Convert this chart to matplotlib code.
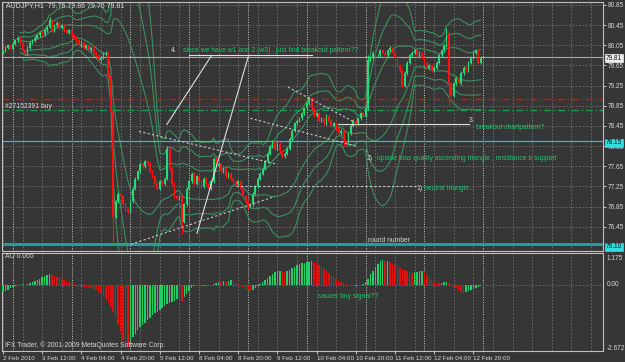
import numpy as np
import pandas as pd
import matplotlib
matplotlib.use("Agg")
import matplotlib.pyplot as plt

plt.rcParams['font.family'] = ['Liberation Sans', 'DejaVu Sans']

# AUDJPY H1 closes, bar 0 = 2 Feb 2010 20:00 ... bar 195 = 12 Feb 23:00
closes = [
    79.95, 80.00, 80.05, 79.98, 80.08, 80.15, 80.20, 80.10, 79.95, 79.88,
    80.00, 80.10, 80.15, 80.20, 80.25, 80.30, 80.27, 80.35, 80.42, 80.55,
    80.35, 80.45, 80.50, 80.40, 80.45, 80.35, 80.30, 80.35, 80.25, 80.20,
    80.15, 80.05, 80.10, 80.00, 80.05, 79.95, 80.00, 79.90, 79.85, 79.75,
    79.80, 79.88, 79.90, 79.45, 78.75, 76.65, 76.95, 77.10, 77.05, 76.90,
    76.80, 76.75, 76.95, 77.20, 77.40, 77.55, 77.70, 77.65, 77.75, 77.70,
    77.55, 77.45, 77.30, 77.20, 77.35, 77.30, 77.40, 78.00, 77.60, 77.30,
    77.05, 77.00, 77.05, 76.55, 76.90, 77.20, 77.35, 77.50, 77.30, 77.45,
    77.35, 77.25, 77.40, 77.30, 77.20, 77.35, 77.80, 77.65, 77.70, 77.55,
    77.60, 77.45, 77.50, 77.40, 77.35, 77.30, 77.35, 77.20, 77.05, 76.95,
    76.85, 76.90, 77.10, 77.25, 77.40, 77.50, 77.60, 77.75, 77.90, 78.05,
    78.15, 78.00, 78.10, 77.95, 77.85, 77.90, 78.00, 78.20, 78.35, 78.50,
    78.55, 78.60, 78.70, 78.80, 78.90, 79.00, 78.80, 78.65, 78.70, 78.55,
    78.60, 78.50, 78.65, 78.55, 78.45, 78.50, 78.40, 78.30, 78.35, 78.15,
    78.10, 78.30, 78.45, 78.55, 78.50, 78.60, 78.70, 78.65, 78.80, 79.75,
    79.80, 79.90, 79.85, 79.85, 79.95, 79.90, 79.85, 79.95, 80.00, 79.90,
    79.80, 79.65, 79.55, 79.25, 79.50, 79.70, 79.85, 79.90, 79.95, 79.85,
    79.90, 79.80, 79.70, 79.60, 79.65, 79.55, 79.60, 79.70, 79.85, 79.95,
    80.05, 80.30, 79.30, 79.05, 79.30, 79.40, 79.30, 79.50, 79.60, 79.55,
    79.70, 79.80, 79.90, 79.95, 79.70, 79.81,
]
first_open = 79.90

# bars whose wick sticks out well past the body
high_bars = [19, 67, 149, 181]
high_vals = [80.62, 78.05, 79.85, 80.40]
low_bars = [45, 73, 100, 139, 182]
low_vals = [76.15, 76.30, 76.80, 78.05, 78.85]

# Awesome Oscillator, one value per bar
ao = [
    -0.30, -0.27, -0.22, -0.15, -0.10, -0.05, -0.08, -0.03, 0.02, -0.02,
    0.03, 0.06, 0.10, 0.15, 0.20, 0.25, 0.30, 0.35, 0.40, 0.42,
    0.40, 0.36, 0.32, 0.28, 0.22, 0.18, 0.14, 0.10, 0.06, 0.03,
    -0.02, -0.05, -0.04, -0.08, -0.10, -0.12, -0.15, -0.18, -0.22, -0.30,
    -0.40, -0.50, -0.60, -0.75, -0.90, -1.10, -1.35, -1.65, -1.95, -2.25,
    -2.45, -2.55, -2.30, -2.15, -2.00, -1.85, -1.75, -1.65, -1.55, -1.45,
    -1.35, -1.25, -1.15, -1.10, -1.02, -0.95, -0.88, -0.80, -0.75, -0.70,
    -0.65, -0.60, -0.62, -0.66, -0.50, -0.38, -0.25, -0.12, -0.05, -0.03,
    -0.06, -0.08, -0.05, -0.04, -0.06, -0.02, 0.03, 0.08, 0.12, 0.10,
    0.14, 0.12, 0.16, 0.18, 0.14, 0.08, 0.02, -0.04, -0.10, -0.16,
    -0.22, -0.24, -0.20, -0.12, -0.05, 0.03, 0.10, 0.18, 0.26, 0.35,
    0.45, 0.52, 0.55, 0.58, 0.54, 0.52, 0.56, 0.62, 0.68, 0.74,
    0.80, 0.84, 0.87, 0.89, 0.92, 0.94, 0.96, 0.93, 0.88, 0.80,
    0.72, 0.64, 0.55, 0.47, 0.39, 0.31, 0.24, 0.17, 0.11, 0.06,
    0.02, -0.02, -0.05, -0.06, -0.04, -0.05, -0.02, 0.02, 0.10, 0.25,
    0.42, 0.58, 0.72, 0.85, 0.95, 1.02, 0.98, 0.99, 0.94, 0.88,
    0.82, 0.76, 0.70, 0.65, 0.60, 0.55, 0.50, 0.47, 0.50, 0.53,
    0.56, 0.58, 0.50, 0.40, 0.30, 0.20, 0.12, 0.08, 0.05, 0.07,
    0.10, 0.12, 0.06, -0.02, -0.08, -0.15, -0.22, -0.30, -0.35, -0.30,
    -0.25, -0.22, -0.18, -0.12, -0.08, -0.05,
]

price_ticks = [76.45, 76.85, 77.25, 77.65, 78.05, 78.45, 78.85, 79.25, 79.65, 80.05, 80.45, 80.85]
xtick_bars = [0, 16, 32, 48, 64, 80, 96, 112, 128, 144, 160, 176, 192]
xtick_labels = ["2 Feb 2010", "3 Feb 12:00", "4 Feb 04:00", "4 Feb 20:00", "5 Feb 12:00",
                "8 Feb 04:00", "8 Feb 20:00", "9 Feb 12:00", "10 Feb 04:00", "10 Feb 20:00",
                "11 Feb 12:00", "12 Feb 04:00", "12 Feb 20:00"]
day_starts = [4, 28, 52, 76, 100, 124, 148, 172, 196]

bid = 79.81
sell_level = 78.99
buy_level = 78.76
cyan_level = 78.15
round_level = 76.10

# hand drawn trend lines (bar, price) -> (bar, price)
solid_lines = [((66.9, 78.48), (84.9, 79.83)),
               ((79.2, 76.32), (100.0, 79.81)),
               ((76.0, 79.86), (126.0, 79.86)),
               ((136.7, 78.49), (190.2, 78.49))]
dashed_lines = [((55.5, 78.34), (111.0, 77.70)),
                ((52.2, 76.10), (111.0, 77.05)),
                ((95.0, 77.26), (168.6, 77.26)),
                ((116.3, 79.22), (142.9, 78.54)),
                ((101.0, 78.60), (144.0, 78.05))]

BG = '#363636'
GRID = '#707070'
TXT = '#d8d8d8'
GREEN = '#22dd77'
RED = '#ff1010'
NOTE = '#21c46a'
BAND = '#3b8f5f'

W, H = 625, 362
fig = plt.figure(figsize=(W / 100, H / 100), dpi=100, facecolor=BG)

def fpos(x, y):
    return x / W, 1 - y / H

ax = fig.add_axes([2 / W, 1 - 251 / H, 601 / W, 249 / H], facecolor=BG)
ax2 = fig.add_axes([2 / W, 1 - 351 / H, 601 / W, 98 / H], facecolor=BG, sharex=ax)

n = len(closes)
idx = np.arange(n)
c = np.array(closes)
o = np.array([first_open] + closes[:-1])
hi = np.maximum(o, c) + 0.03
lo = np.minimum(o, c) - 0.03
for b, v in zip(high_bars, high_vals):
    hi[b] = v
for b, v in zip(low_bars, low_vals):
    lo[b] = v
up = c >= o
cols = np.where(up, GREEN, RED)

# grid
for a in (ax, ax2):
    for g in range(0, 245, 8):
        a.axvline(g, color=GRID, lw=0.6, ls=(0, (2, 2)), zorder=0)
    for d in day_starts:
        a.axvline(d, color='#c8c8c8', lw=0.7, ls=(0, (1, 1.5)), zorder=0)
for p in price_ticks:
    ax.axhline(p, color=GRID, lw=0.6, ls=(0, (2, 2)), zorder=0)

# bollinger bands 20 period, 1/2/3 deviations
s = pd.Series(closes)
mid = s.rolling(20, min_periods=8).mean()
sd = s.rolling(20, min_periods=8).std(ddof=0)
for k in (1, 2, 3):
    ax.plot(idx, mid + k * sd, color=BAND, lw=0.8, zorder=1)
    ax.plot(idx, mid - k * sd, color=BAND, lw=0.8, zorder=1)

# candles
ax.vlines(idx, lo, hi, colors=cols, lw=0.8, zorder=3)
ax.bar(idx, np.maximum(np.abs(c - o), 0.012), bottom=np.minimum(o, c), width=0.7,
       color=cols, zorder=3)

# levels
ax.axhline(bid, color='#a8a8a8', lw=0.8, zorder=2)
ax.axhline(sell_level, color='#e01010', lw=1.0, ls=(0, (5, 2, 1, 2)), zorder=2)
ax.axhline(buy_level, color='#18a040', lw=1.0, ls=(0, (5, 2, 1, 2)), zorder=2)
ax.axhline(cyan_level, color='#3cbcbc', lw=0.9, zorder=2)
ax.axhline(round_level, color='#2a9a9a', lw=2.2, zorder=2)

for (x0, y0), (x1, y1) in solid_lines:
    ax.plot([x0, x1], [y0, y1], color='#e0e0e0', lw=0.8, zorder=4)
for (x0, y0), (x1, y1) in dashed_lines:
    ax.plot([x0, x1], [y0, y1], color='#c8c8c8', lw=0.8, ls=(0, (2, 2)), zorder=4)

xmax = 601 / 2.45 - 0.4
ax.set_xlim(-0.4, xmax)
ax.set_ylim(80.85 - 249 / 51, 80.85 + 3 / 51)

# AO histogram
av = np.array(ao)
ao_up = np.concatenate([[True], av[1:] > av[:-1]])
ax2.bar(idx, av, width=0.6, color=np.where(ao_up, '#22cc66', '#dd1111'), zorder=3)
ax2.axhline(0, color=GRID, lw=0.6, ls=(0, (2, 2)), zorder=1)
ax2.set_ylim(-2.672 - 1 / 24.43, 1.175 + 3 / 24.43)

# axes look
for a in (ax, ax2):
    for sp in a.spines.values():
        sp.set_color('#c0c0c0')
        sp.set_linewidth(0.8)
    a.yaxis.tick_right()
    a.tick_params(colors=TXT, labelsize=4.7, length=2, width=0.6, pad=1.2)

ax.set_yticks(price_ticks, ["%.2f" % p for p in price_ticks])
ax.tick_params(axis='x', bottom=False, labelbottom=False)
ax2.set_yticks([])
ax2.set_xticks(xtick_bars, xtick_labels)
for t in ax2.get_xticklabels():
    t.set_ha('left')
ax2.tick_params(axis='x', labelsize=4.5, pad=1.5)

# right-hand value boxes
def tag(y, text, fc, ec):
    fig.text(*fpos(606, y), text, fontsize=4.7, color='#101010', va='center', ha='left',
             bbox=dict(boxstyle='square,pad=0.12', fc=fc, ec=ec, lw=0.5), zorder=10)

tag(58, "79.81", '#f0f0f0', '#f0f0f0')
tag(143, "78.15", '#30e0e0', '#30e0e0')
tag(247, "76.10", '#30e0e0', '#30e0e0')

for y, t in [(259, "1.175"), (284, "0.00"), (348, "-2.672")]:
    fig.text(*fpos(607, y), t, fontsize=4.7, color=TXT, va='center', ha='left')

# chart notes
def note(x, y, text, color=NOTE, size=4.9):
    fig.text(*fpos(x, y), text, fontsize=size, color=color, va='center', ha='left')

note(6, 6, "AUDJPY,H1  79.76 79.86 79.76 79.81", TXT, 5.0)
note(171, 51, "4.", TXT)
note(183, 50, "since we have w1 and 2 (w3) , just find breakout pattern??")
note(5, 107, "#27152391 buy", TXT)
note(469, 121, "3.", TXT)
note(476, 127, "breakout chartpattern?")
note(367, 158, "2)", TXT)
note(377, 158, "upside bias quality ascending triangle , resistance b support")
note(416, 188, "1)", TXT)
note(424, 188, "neutral triangle...")
note(368, 240, "round number", TXT)
note(5, 257, "AO 0.065", TXT)
note(318, 296, "saucer buy signal??")
note(5, 345, "IFX Trader, \u00a9 2001-2009 MetaQuotes Software Corp.", TXT)

fig.savefig("out.png", dpi=100, facecolor=BG)
